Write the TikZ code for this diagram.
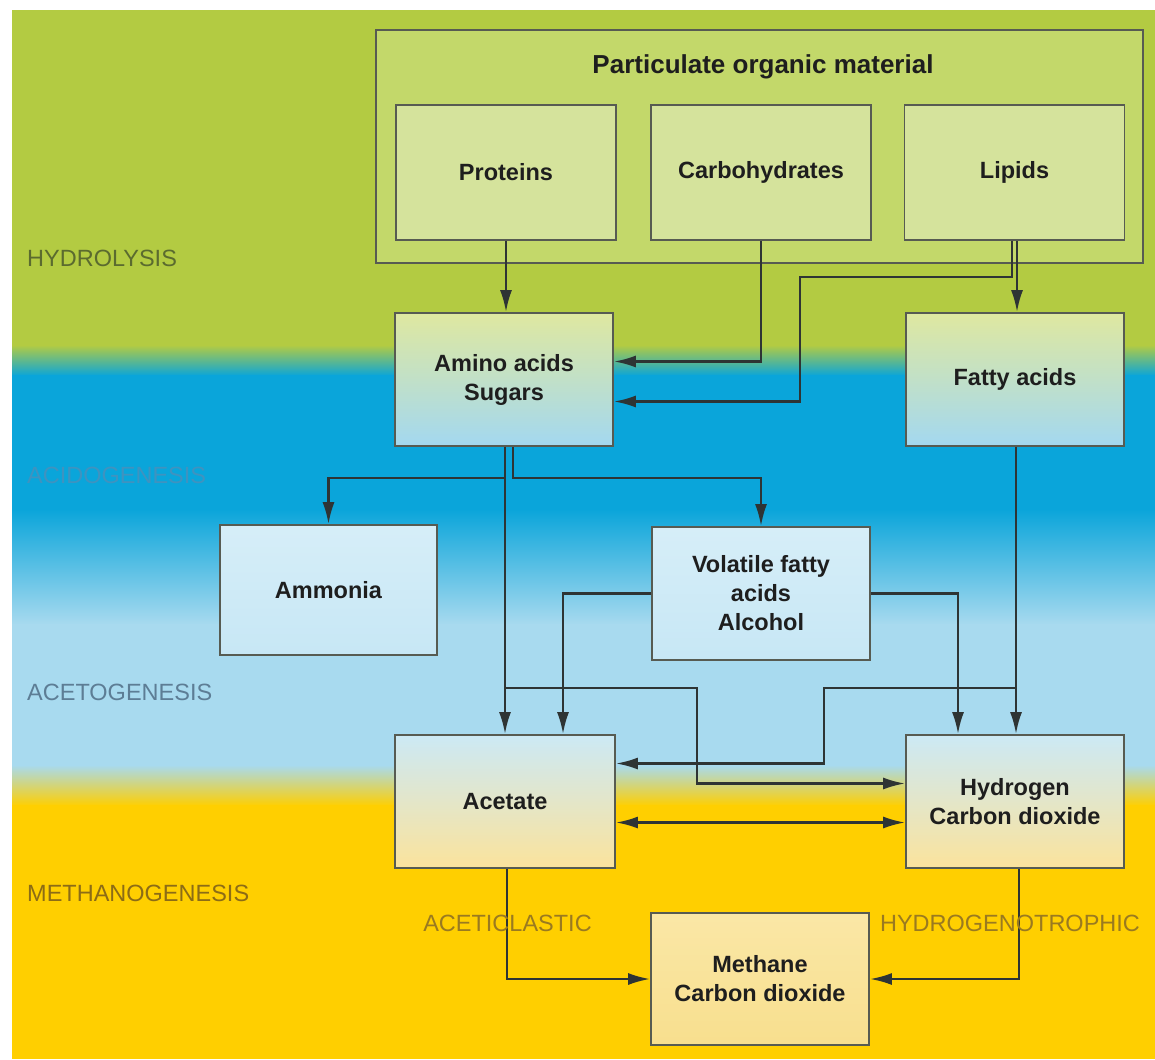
\documentclass[tikz,border=0pt]{standalone}
\usepackage{fontspec}
\setmainfont{Liberation Sans}
\usetikzlibrary{arrows.meta,calc}
\definecolor{bggreen}{HTML}{B3CB42}
\definecolor{bgblue}{HTML}{0AA5DA}
\definecolor{bglight}{HTML}{A8DAEF}
\definecolor{bgyellow}{HTML}{FFCF00}
\definecolor{outerfill}{HTML}{C3D86A}
\definecolor{innerfill}{HTML}{D5E39C}
\definecolor{boxline}{HTML}{575B52}
\definecolor{arrline}{HTML}{2E3434}
\definecolor{textdark}{HTML}{1E1E1E}
\definecolor{hydcol}{HTML}{5B6B2F}
\definecolor{acidcol}{HTML}{3E93C0}
\definecolor{acetcol}{HTML}{5D7D95}
\definecolor{methcol}{HTML}{8C6C16}
\definecolor{pathcol}{HTML}{9A7A20}
\definecolor{mixtop}{HTML}{DFE8A0}
\definecolor{mixmid}{HTML}{D6EBDC}
\definecolor{mixbot}{HTML}{A3D8F0}
\definecolor{bltop}{HTML}{D6EEF8}
\definecolor{blbot}{HTML}{C7E7F5}
\definecolor{lotop}{HTML}{CCE9F5}
\definecolor{lomid}{HTML}{F4EDC6}
\definecolor{lobot}{HTML}{FBE39C}
\definecolor{yetop}{HTML}{FAE7A6}
\definecolor{yebot}{HTML}{F8DF8E}
\newcommand{\boxfont}{\bfseries\fontsize{23.5}{29}\selectfont}
\newcommand{\ttlfont}{\bfseries\fontsize{26}{30}\selectfont}
\newcommand{\phfont}{\fontsize{23.5}{27}\selectfont}
\begin{document}
\begin{tikzpicture}[x=1pt,y=-1pt,
  box/.style={draw=boxline, line width=1.8pt, minimum width=218, minimum height=133,
    align=center, font=\boxfont, text=textdark, inner sep=0pt},
  greenbox/.style={box, fill=innerfill, minimum width=220, minimum height=135},
  mixbox/.style={box, top color=mixtop, middle color=mixmid, bottom color=mixbot},
  bluebox/.style={box, top color=bltop, bottom color=blbot},
  lowbox/.style={box, top color=lotop, middle color=lomid, bottom color=lobot},
  yelbox/.style={box, top color=yetop, bottom color=yebot},
  arr/.style={draw=arrline, line width=2.4pt, -{Latex[length=22pt,width=12pt]}},
  darr/.style={draw=arrline, line width=2.4pt, {Latex[length=22pt,width=12pt]}-{Latex[length=22pt,width=12pt]}},
  phase/.style={anchor=west, font=\phfont, inner sep=0pt},
]
\useasboundingbox (0,0) rectangle (1155,1059);
% background bands
\fill[white] (0,0) rectangle (1155,1059);
\fill[bggreen] (12,10) rectangle (1155,346);
\shade[top color=bggreen,bottom color=bgblue] (12,345) rectangle (1155,376);
\fill[bgblue] (12,375) rectangle (1155,510);
\shade[top color=bgblue,bottom color=bglight] (12,509) rectangle (1155,625);
\fill[bglight] (12,624) rectangle (1155,766);
\shade[top color=bglight,bottom color=bgyellow] (12,765) rectangle (1155,806);
\fill[bgyellow] (12,805) rectangle (1155,1059);

% phase labels
\node[phase, text=hydcol] (lhyd) at (27,258) {HYDROLYSIS};
\node[phase, text=acidcol] (lacid) at (27,475) {ACIDOGENESIS};
\node[phase, text=acetcol] (lacet) at (27,692) {ACETOGENESIS};
\node[phase, text=methcol] (lmeth) at (27,893) {METHANOGENESIS};

% nodes
\node[box, fill=outerfill, minimum width=767, minimum height=233] (pom) at (759.5,146.5) {};
\node[font=\ttlfont, text=textdark] (ttl) at (763,67) {Particulate organic material};
\node[greenbox] (prot) at (506,172.5) {Proteins};
\node[greenbox] (carb) at (761,172.5) {Carbohydrates};
\node[greenbox] (lip) at (1014.5,172.5) {Lipids};
\node[mixbox] (amino) at (504,379.5) {Amino acids\\Sugars};
\node[mixbox] (fatty) at (1015,379.5) {Fatty acids};
\node[bluebox, minimum width=217, minimum height=130] (amm) at (328.5,590) {Ammonia};
\node[bluebox] (vfa) at (761,593.5) {Volatile fatty\\acids\\Alcohol};
\node[lowbox, minimum width=220] (acet) at (505,801.5) {Acetate};
\node[lowbox] (hyd) at (1015,801.5) {Hydrogen\\Carbon dioxide};
\node[yelbox, minimum height=132] (meth) at (760,979) {Methane\\Carbon dioxide};

% junction points
\coordinate (j1) at (505,688);
\coordinate (j2) at (1016,688);

% connectors
\draw[arr] (prot.south) -- (prot.south |- amino.north);
\draw[arr] (carb.south) |- ([yshift=18pt]amino.east);
\draw[arr] ([xshift=-2.5pt]lip.south) |- (800,277) |- ([yshift=-22pt]amino.east);
\draw[arr] ([xshift=2.5pt]lip.south) -- ([xshift=2.5pt]lip.south |- fatty.north);
\draw[arr] ([xshift=1pt]amino.south) -- ([xshift=1pt]amino.south |- acet.north);
\draw[arr] ([xshift=1pt]amino.south) -- ++(0,31) -| (amm.north);
\draw[arr] ([xshift=9pt]amino.south) -- ++(0,31) -| (vfa.north);
\draw[arr] (vfa.west) -| ([xshift=58pt]acet.north);
\draw[arr] (vfa.east) -| ([xshift=-57pt]hyd.north);
\draw[arr] ([xshift=1pt]fatty.south) -- ([xshift=1pt]fatty.south |- hyd.north);
\draw[arr] (j1) -| (697,760) |- ([yshift=18pt]hyd.west);
\draw[arr] (j2) -| (824,740) |- ([yshift=38pt]acet.east);
\draw[darr] ([yshift=-21pt]acet.east) -- ([yshift=-21pt]hyd.west);
\draw[arr] ([xshift=2pt]acet.south) |- (meth.west);
\draw[arr] ([xshift=4pt]hyd.south) |- (meth.east);

% pathway labels
\node[font=\phfont, text=pathcol, inner sep=0pt] (lac) at (507.5,923) {ACETICLASTIC};
\node[font=\phfont, text=pathcol, inner sep=0pt] (lho) at (1010,923) {HYDROGENOTROPHIC};
\end{tikzpicture}
\end{document}
